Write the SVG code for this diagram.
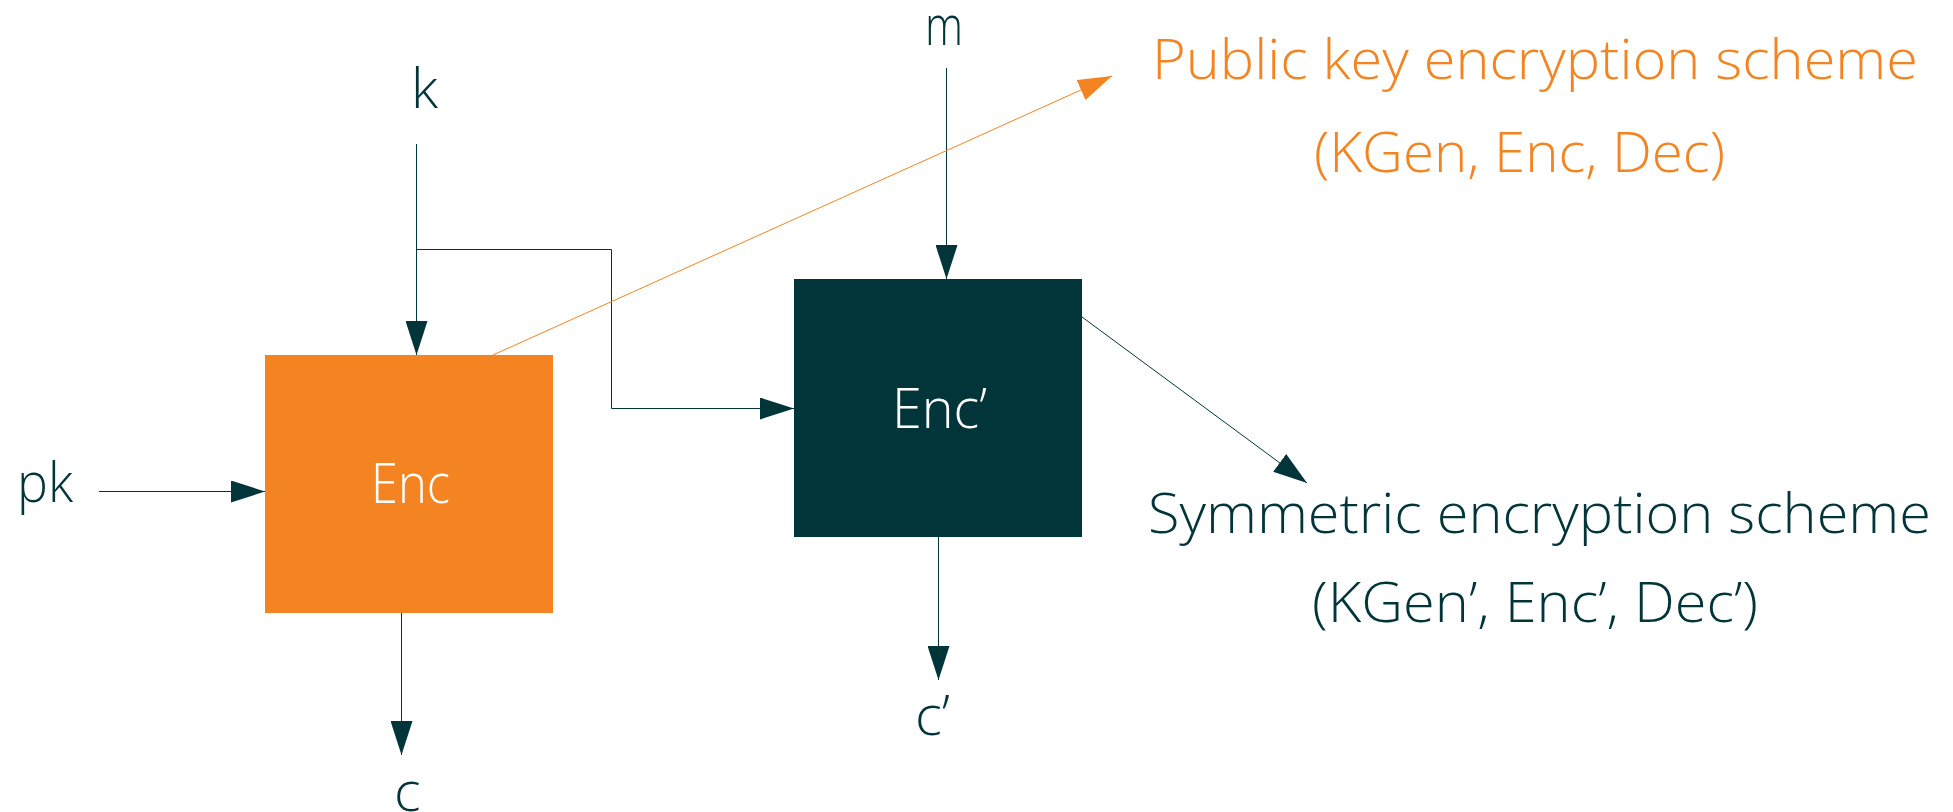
<svg xmlns="http://www.w3.org/2000/svg" width="1953" height="812" viewBox="0 0 1953 812">
<style>
  text { font-family: "Open Sans", "Liberation Sans", sans-serif; font-weight: 300; font-size: 56px; }
  .dk { fill: #02353A; }
  .or { fill: #F38421; }
  .wt { fill: #FFFFFF; }
  .ln { fill: none; stroke: #02353A; stroke-width: 1; }
  .lo { fill: none; stroke: #F38421; stroke-width: 1; }
</style>
<defs>
  <marker id="ad" markerUnits="userSpaceOnUse" markerWidth="34" markerHeight="22" refX="34" refY="11" orient="auto">
    <path d="M0,0 L34,11 L0,22 Z" fill="#02353A"/>
  </marker>
  <marker id="ao" markerUnits="userSpaceOnUse" markerWidth="34" markerHeight="22" refX="34" refY="11" orient="auto">
    <path d="M0,0 L34,11 L0,22 Z" fill="#F38421"/>
  </marker>
</defs>
<rect width="1953" height="812" fill="#FFFFFF"/>
<g id="connectors">
  <line class="ln" x1="416.5" y1="144" x2="416.5" y2="355" marker-end="url(#ad)"/>
  <polyline class="ln" points="416.5,249.5 611.5,249.5 611.5,408.5 794,408.5" marker-end="url(#ad)"/>
  <line class="ln" x1="99" y1="491.5" x2="265" y2="491.5" marker-end="url(#ad)"/>
  <line class="ln" x1="401.5" y1="613" x2="401.5" y2="755" marker-end="url(#ad)"/>
  <line class="ln" x1="946.5" y1="68" x2="946.5" y2="279" marker-end="url(#ad)"/>
  <line class="ln" x1="938.5" y1="537" x2="938.5" y2="680" marker-end="url(#ad)"/>
  <line class="ln" x1="1082" y1="317" x2="1307" y2="483" marker-end="url(#ad)"/>
  <line class="lo" x1="493" y1="355" x2="1112" y2="76" marker-end="url(#ao)"/>
</g>
<g id="node-enc">
  <rect x="265" y="355" width="288" height="258" fill="#F38421"/>
  <text class="wt" x="371" y="503" textLength="79" lengthAdjust="spacingAndGlyphs">Enc</text>
</g>
<g id="node-enc2">
  <rect x="794" y="279" width="288" height="258" fill="#02353A"/>
  <text class="wt" x="892" y="428" textLength="95" lengthAdjust="spacingAndGlyphs">Enc’</text>
</g>
<g id="label-k"><text class="dk" x="411" y="108">k</text></g>
<g id="label-m"><text class="dk" x="925" y="45" textLength="38" lengthAdjust="spacingAndGlyphs">m</text></g>
<g id="label-pk"><text class="dk" x="17" y="502" textLength="56" lengthAdjust="spacingAndGlyphs">pk</text></g>
<g id="label-c"><text class="dk" x="394" y="811">c</text></g>
<g id="label-c2"><text class="dk" x="915" y="735" textLength="35" lengthAdjust="spacingAndGlyphs">c’</text></g>
<g id="label-pke">
  <text class="or" x="1152" y="79" textLength="766" lengthAdjust="spacingAndGlyphs">Public key encryption scheme</text>
  <text class="or" x="1314" y="172" textLength="411" lengthAdjust="spacingAndGlyphs">(KGen, Enc, Dec)</text>
</g>
<g id="label-sym">
  <text class="dk" x="1148" y="533" textLength="783" lengthAdjust="spacingAndGlyphs">Symmetric encryption scheme</text>
  <text class="dk" x="1312" y="622" textLength="446" lengthAdjust="spacingAndGlyphs">(KGen’, Enc’, Dec’)</text>
</g>
</svg>
